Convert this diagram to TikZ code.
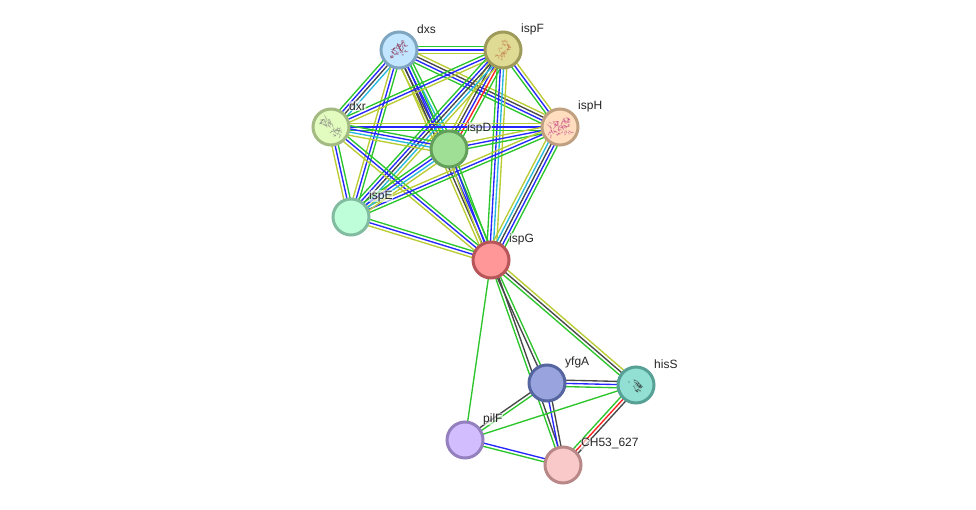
\documentclass[tikz,border=0pt]{standalone}
\usepackage{fontspec}
\setmainfont{Liberation Sans}
\usetikzlibrary{calc,backgrounds}
\definecolor{lg}{HTML}{2CC62C}
\definecolor{lb}{HTML}{2626FF}
\definecolor{lk}{HTML}{484848}
\definecolor{lc}{HTML}{26B8DC}
\definecolor{ly}{HTML}{BACC33}
\definecolor{lr}{HTML}{FF2222}
\definecolor{fdxs}{HTML}{C2E6FF}\definecolor{sdxs}{HTML}{7EA6C0}
\definecolor{fspf}{HTML}{DFDB94}\definecolor{sspf}{HTML}{9D9A5A}
\definecolor{fdxr}{HTML}{E2FBBF}\definecolor{sdxr}{HTML}{A3BA82}
\definecolor{fsph}{HTML}{FFDDBE}\definecolor{ssph}{HTML}{BFA181}
\definecolor{fspd}{HTML}{9FDF95}\definecolor{sspd}{HTML}{649F5C}
\definecolor{fspe}{HTML}{BEFFD9}\definecolor{sspe}{HTML}{81BBA0}
\definecolor{fspg}{HTML}{FF9698}\definecolor{sspg}{HTML}{B85558}
\definecolor{fyfg}{HTML}{99A4DF}\definecolor{syfg}{HTML}{5565A0}
\definecolor{fhis}{HTML}{92E0D3}\definecolor{shis}{HTML}{57A096}
\definecolor{fpil}{HTML}{D2BEFF}\definecolor{spil}{HTML}{9480BE}
\definecolor{fchh}{HTML}{F9C9C9}\definecolor{schh}{HTML}{B88888}
\tikzset{
  prot/.style 2 args={circle,minimum size=36pt,inner sep=0pt,line width=3pt,fill=#1,draw=#2},
  tag/.style={anchor=west,font=\fontsize{12}{12}\selectfont,text=black!85,inner sep=.6pt,
    fill=white,fill opacity=.6,text opacity=1},
  stripe/.style={line width=1.35pt}
}
% Parallel coloured stripes between two named proteins, one per evidence channel
\newcommand{\evlink}[3]{%
  \foreach \c [count=\n] in {#3} {\global\let\evtotal\n}%
  \foreach \c [count=\n] in {#3} {%
    \pgfmathsetmacro{\off}{(\n-(\evtotal+1)/2)*3.2}%
    \draw[stripe,color=\c] ($(#1)!\off pt!90:(#2)$) -- ($(#2)!\off pt!-90:(#1)$);%
  }%
}
% Small ribbon tangle drawn on top of a protein disc
\newcommand{\tangle}[8]{% node, colour, half length, half width, rotation, segments, seed, opacity
  \pgfmathsetseed{#7}%
  \begin{scope}[shift={(#1)},rotate=#5]
    \foreach \i in {1,...,#6} {%
      \pgfmathsetmacro{\ax}{#3*(2*rnd-1)}%
      \pgfmathsetmacro{\ay}{#4*(2*rnd-1)}%
      \pgfmathsetmacro{\bx}{\ax+5*(rnd-.5)}%
      \pgfmathsetmacro{\by}{\ay+5*(rnd-.5)}%
      \pgfmathsetmacro{\cx}{\ax+4*(rnd-.5)}%
      \pgfmathsetmacro{\cy}{\ay+4*(rnd-.5)}%
      \draw[color=#2,line width=.7pt,opacity=#8,line cap=round] (\ax,\ay) .. controls (\cx,\cy) .. (\bx,\by);%
    }
  \end{scope}%
}
\begin{document}
\begin{tikzpicture}[x=1pt,y=-1pt]
\useasboundingbox (0,0) rectangle (976,510);
% proteins
\node[prot={fdxs}{sdxs}] (dxs) at (399,50) {};
\node[prot={fspf}{sspf}] (ispF) at (503,50) {};
\node[prot={fdxr}{sdxr}] (dxr) at (331,127) {};
\node[prot={fsph}{ssph}] (ispH) at (560,127) {};
\node[prot={fspd}{sspd}] (ispD) at (449,149) {};
\node[prot={fspe}{sspe}] (ispE) at (351,217) {};
\node[prot={fspg}{sspg}] (ispG) at (491,260) {};
\node[prot={fyfg}{syfg}] (yfgA) at (547,383) {};
\node[prot={fhis}{shis}] (hisS) at (636,385) {};
\node[prot={fpil}{spil}] (pilF) at (465,440) {};
\node[prot={fchh}{schh}] (chh) at (563,465) {};
% evidence links
\begin{pgfonlayer}{background}
\fill[white] (0,0) rectangle (976,510);
\evlink{dxs}{ispF}{ly,lb,lg}
\evlink{dxs}{dxr}{lg,lb,lk,lc}
\evlink{dxs}{ispD}{ly,lk,lb,lc,lg}
\evlink{dxs}{ispH}{lg,lb,lk,ly}
\evlink{dxs}{ispE}{ly,lb,lg}
\evlink{dxs}{ispG}{ly,lk,lb,lg}
\evlink{ispF}{dxr}{lg,lb,ly}
\evlink{ispF}{ispD}{ly,lk,lb,lr,lg}
\evlink{ispF}{ispH}{lg,lb,ly}
\evlink{ispF}{ispE}{lg,lb,lk,lc,ly}
\evlink{ispF}{ispG}{lg,lb,lc,ly}
\evlink{dxr}{ispH}{lg,lb,ly}
\evlink{dxr}{ispD}{ly,lc,lb,lg}
\evlink{dxr}{ispE}{ly,lb,lg}
\evlink{dxr}{ispG}{ly,lb,lg}
\evlink{ispH}{ispD}{ly,lb,lg}
\evlink{ispH}{ispE}{ly,lb,lg}
\evlink{ispH}{ispG}{ly,lc,lk,lb,lg}
\evlink{ispD}{ispE}{lg,lb,lc,ly}
\evlink{ispD}{ispG}{ly,lb,lg}
\evlink{ispE}{ispG}{ly,lb,lg}
\evlink{ispG}{yfgA}{lk,lg}
\evlink{ispG}{hisS}{lg,lk,ly}
\evlink{ispG}{pilF}{lg}
\evlink{ispG}{chh}{lg,lk}
\evlink{yfgA}{hisS}{lg,lb,lk}
\evlink{yfgA}{chh}{lb,lk}
\evlink{yfgA}{pilF}{lk,lg}
\evlink{hisS}{pilF}{lg}
\evlink{hisS}{chh}{lg,lr,lk}
\evlink{pilF}{chh}{lg,lb}
\end{pgfonlayer}
% structure thumbnails
\tangle{dxs}{black!30!purple!70!gray}{9}{6}{20}{40}{11}{.5}
\tangle{ispF}{brown!80!purple}{10}{4.5}{55}{34}{12}{.4}
\tangle{dxr}{gray!90!black}{11}{4.5}{-40}{38}{13}{.5}
\tangle{ispH}{purple!70!magenta!70!gray}{11}{8}{10}{55}{14}{.45}
\tangle{hisS}{black!70!gray}{7}{3.5}{-50}{20}{15}{.55}
% labels
\node[tag] (tdxs) at ($(dxs)+(17.4,-21)$) {dxs};
\node[tag] (tspf) at ($(ispF)+(17.4,-21)$) {ispF};
\node[tag] (tdxr) at ($(dxr)+(17.4,-21)$) {dxr};
\node[tag] (tsph) at ($(ispH)+(17.4,-21)$) {ispH};
\node[tag] (tspd) at ($(ispD)+(17.4,-21)$) {ispD};
\node[tag] (tspe) at ($(ispE)+(17.4,-21)$) {ispE};
\node[tag] (tspg) at ($(ispG)+(17.4,-21)$) {ispG};
\node[tag] (tyfg) at ($(yfgA)+(17.4,-21)$) {yfgA};
\node[tag] (this) at ($(hisS)+(17.4,-21)$) {hisS};
\node[tag] (tpil) at ($(pilF)+(17.4,-21)$) {pilF};
\node[tag] (tchh) at ($(chh)+(17.4,-21)$) {CH53\_627};
\end{tikzpicture}
\end{document}
